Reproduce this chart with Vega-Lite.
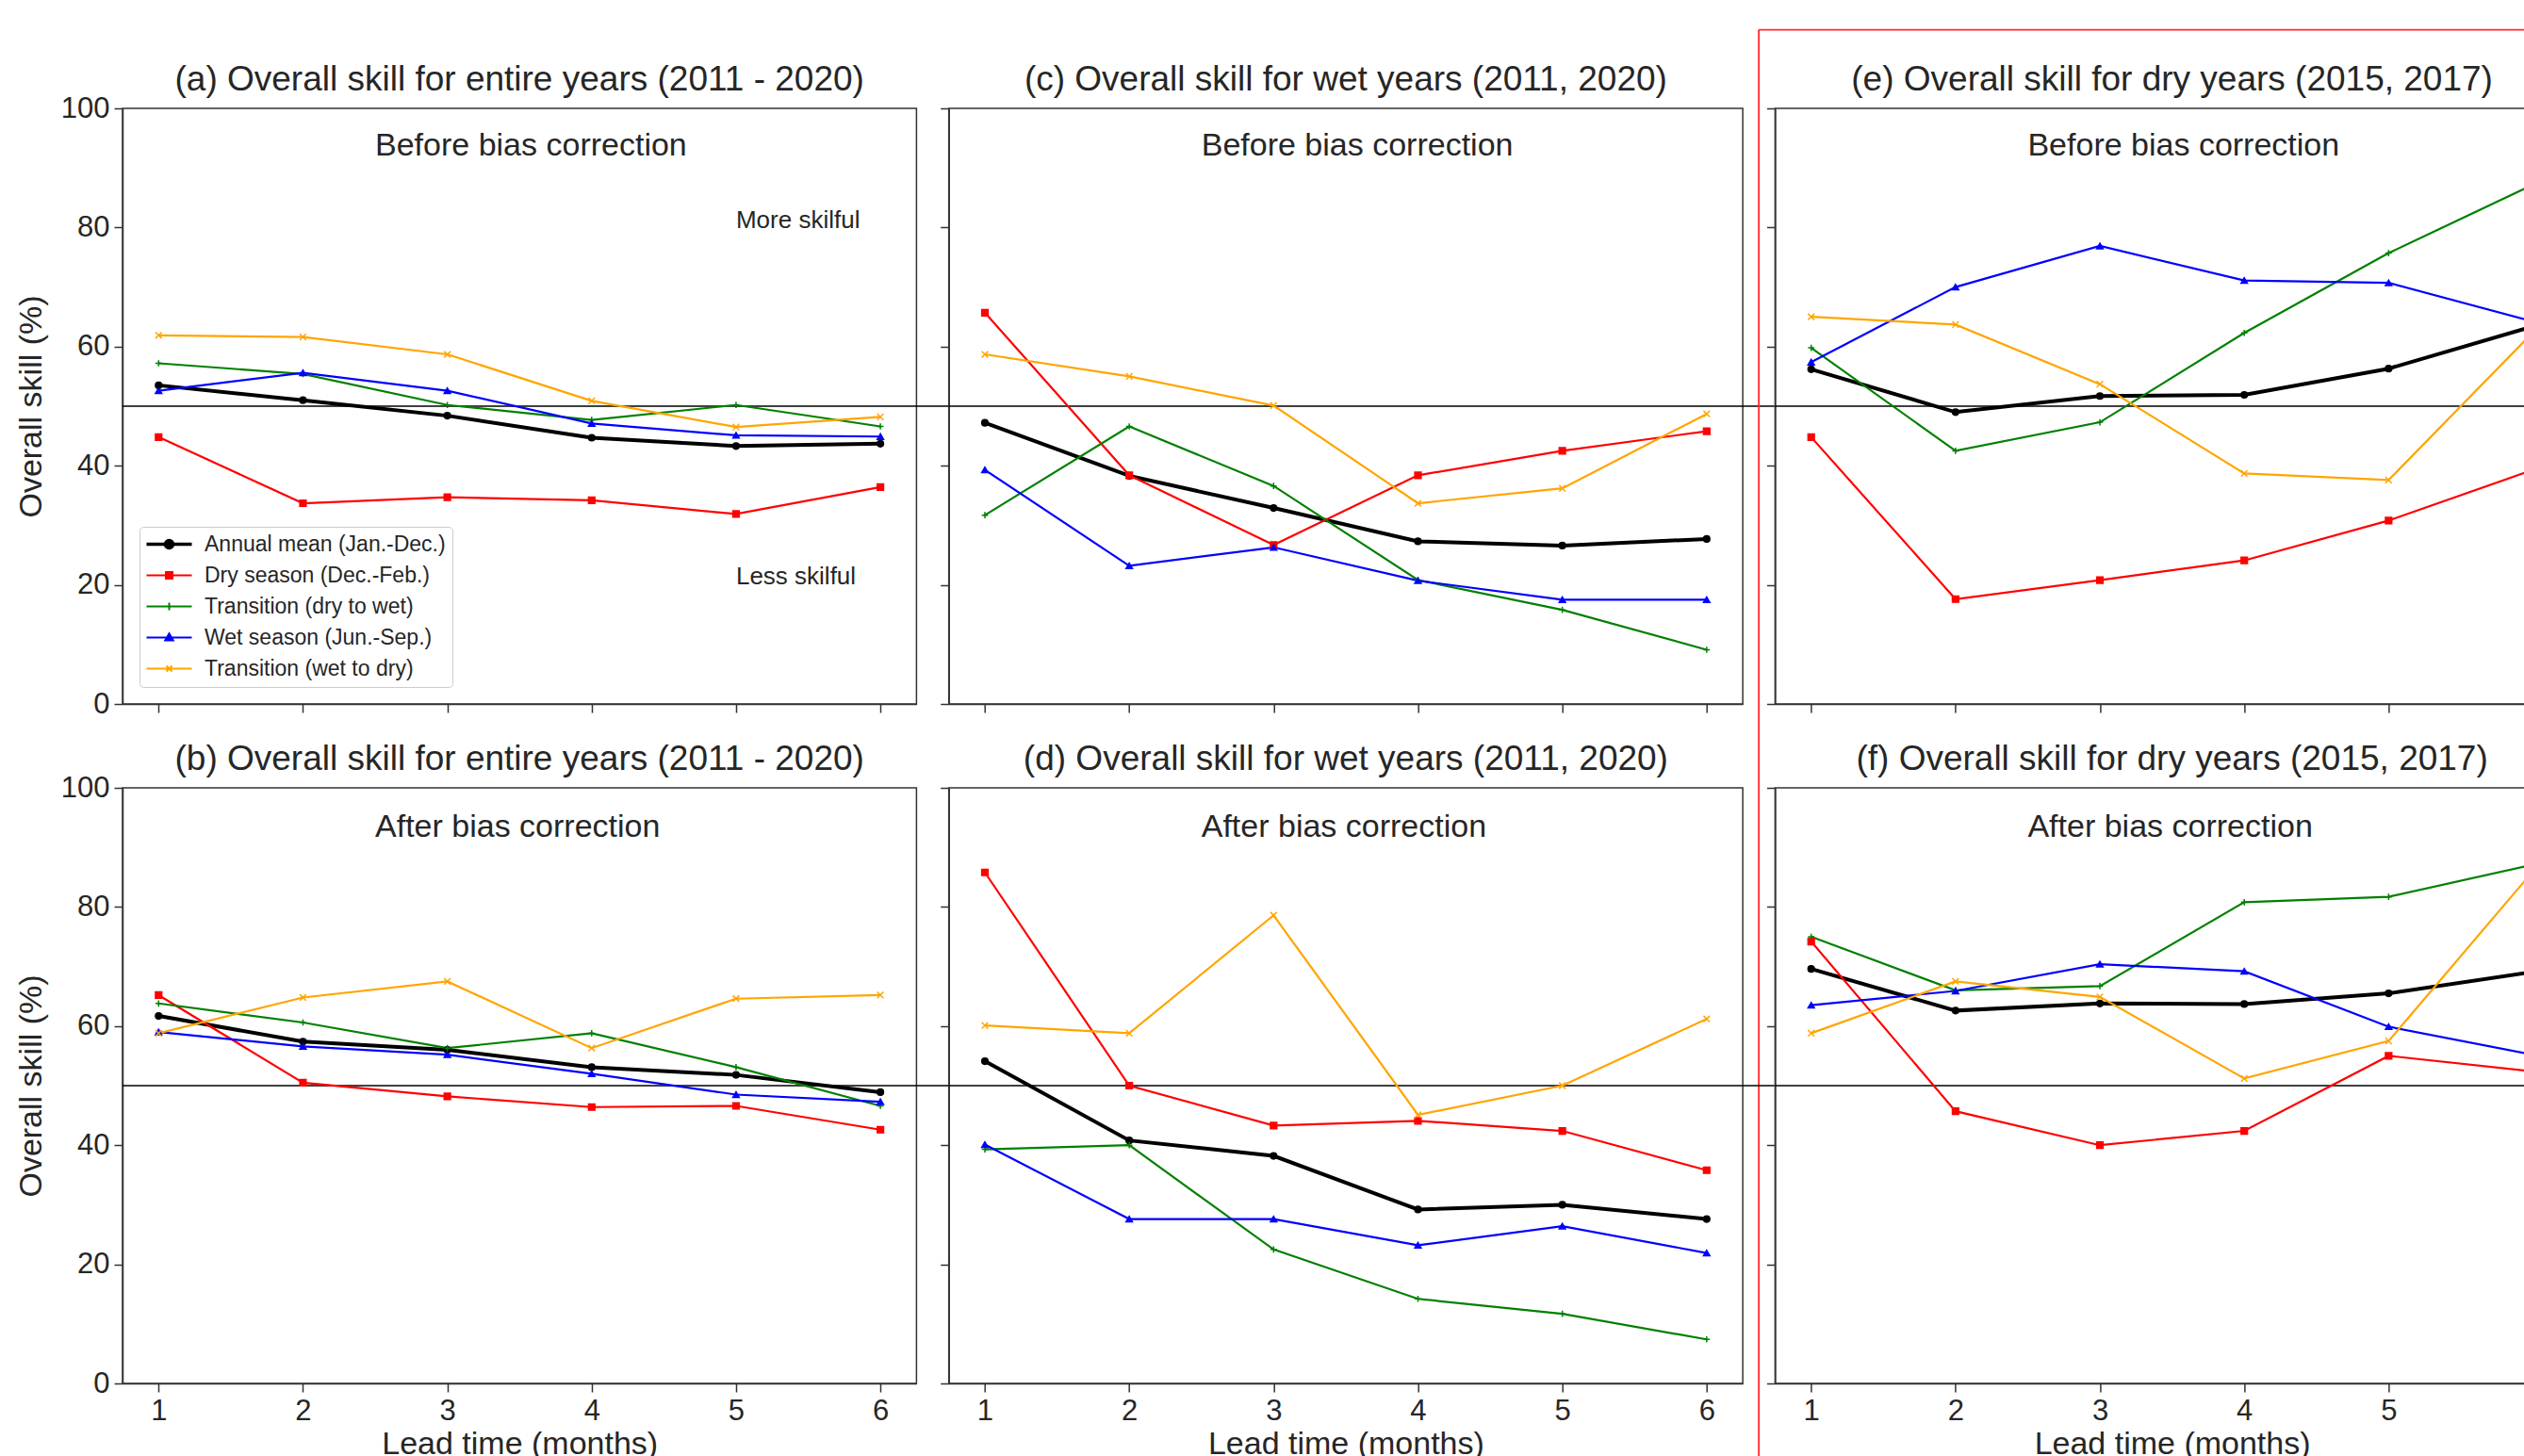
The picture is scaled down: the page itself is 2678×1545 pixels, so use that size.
{
  "$schema": "https://vega.github.io/schema/vega-lite/v6.json",
  "padding": {"left": 15, "top": 29, "right": 0, "bottom": 0},
  "background": "white",
  "bounds": "flush",
  "columns": 3,
  "spacing": {"row": 89, "column": 33.7},
  "resolve": {"scale": {"shape": "independent"}},
  "datasets": {
    "skill": [
      {"panel":"a","lead":1,"series":"Annual mean (Jan.-Dec.)","skill":53.5},{"panel":"a","lead":2,"series":"Annual mean (Jan.-Dec.)","skill":51.0},{"panel":"a","lead":3,"series":"Annual mean (Jan.-Dec.)","skill":48.4},{"panel":"a","lead":4,"series":"Annual mean (Jan.-Dec.)","skill":44.7},{"panel":"a","lead":5,"series":"Annual mean (Jan.-Dec.)","skill":43.3},{"panel":"a","lead":6,"series":"Annual mean (Jan.-Dec.)","skill":43.7},
      {"panel":"a","lead":1,"series":"Dry season (Dec.-Feb.)","skill":44.8},{"panel":"a","lead":2,"series":"Dry season (Dec.-Feb.)","skill":33.7},{"panel":"a","lead":3,"series":"Dry season (Dec.-Feb.)","skill":34.7},{"panel":"a","lead":4,"series":"Dry season (Dec.-Feb.)","skill":34.2},{"panel":"a","lead":5,"series":"Dry season (Dec.-Feb.)","skill":31.9},{"panel":"a","lead":6,"series":"Dry season (Dec.-Feb.)","skill":36.4},
      {"panel":"a","lead":1,"series":"Transition (dry to wet)","skill":57.2},{"panel":"a","lead":2,"series":"Transition (dry to wet)","skill":55.4},{"panel":"a","lead":3,"series":"Transition (dry to wet)","skill":50.2},{"panel":"a","lead":4,"series":"Transition (dry to wet)","skill":47.7},{"panel":"a","lead":5,"series":"Transition (dry to wet)","skill":50.2},{"panel":"a","lead":6,"series":"Transition (dry to wet)","skill":46.6},
      {"panel":"a","lead":1,"series":"Wet season (Jun.-Sep.)","skill":52.6},{"panel":"a","lead":2,"series":"Wet season (Jun.-Sep.)","skill":55.6},{"panel":"a","lead":3,"series":"Wet season (Jun.-Sep.)","skill":52.6},{"panel":"a","lead":4,"series":"Wet season (Jun.-Sep.)","skill":47.1},{"panel":"a","lead":5,"series":"Wet season (Jun.-Sep.)","skill":45.1},{"panel":"a","lead":6,"series":"Wet season (Jun.-Sep.)","skill":44.9},
      {"panel":"a","lead":1,"series":"Transition (wet to dry)","skill":61.9},{"panel":"a","lead":2,"series":"Transition (wet to dry)","skill":61.6},{"panel":"a","lead":3,"series":"Transition (wet to dry)","skill":58.7},{"panel":"a","lead":4,"series":"Transition (wet to dry)","skill":50.9},{"panel":"a","lead":5,"series":"Transition (wet to dry)","skill":46.5},{"panel":"a","lead":6,"series":"Transition (wet to dry)","skill":48.2},

      {"panel":"c","lead":1,"series":"Annual mean (Jan.-Dec.)","skill":47.2},{"panel":"c","lead":2,"series":"Annual mean (Jan.-Dec.)","skill":38.3},{"panel":"c","lead":3,"series":"Annual mean (Jan.-Dec.)","skill":32.9},{"panel":"c","lead":4,"series":"Annual mean (Jan.-Dec.)","skill":27.3},{"panel":"c","lead":5,"series":"Annual mean (Jan.-Dec.)","skill":26.6},{"panel":"c","lead":6,"series":"Annual mean (Jan.-Dec.)","skill":27.7},
      {"panel":"c","lead":1,"series":"Dry season (Dec.-Feb.)","skill":65.7},{"panel":"c","lead":2,"series":"Dry season (Dec.-Feb.)","skill":38.4},{"panel":"c","lead":3,"series":"Dry season (Dec.-Feb.)","skill":26.7},{"panel":"c","lead":4,"series":"Dry season (Dec.-Feb.)","skill":38.4},{"panel":"c","lead":5,"series":"Dry season (Dec.-Feb.)","skill":42.5},{"panel":"c","lead":6,"series":"Dry season (Dec.-Feb.)","skill":45.8},
      {"panel":"c","lead":1,"series":"Transition (dry to wet)","skill":31.7},{"panel":"c","lead":2,"series":"Transition (dry to wet)","skill":46.6},{"panel":"c","lead":3,"series":"Transition (dry to wet)","skill":36.6},{"panel":"c","lead":4,"series":"Transition (dry to wet)","skill":20.8},{"panel":"c","lead":5,"series":"Transition (dry to wet)","skill":15.8},{"panel":"c","lead":6,"series":"Transition (dry to wet)","skill":9.1},
      {"panel":"c","lead":1,"series":"Wet season (Jun.-Sep.)","skill":39.3},{"panel":"c","lead":2,"series":"Wet season (Jun.-Sep.)","skill":23.2},{"panel":"c","lead":3,"series":"Wet season (Jun.-Sep.)","skill":26.3},{"panel":"c","lead":4,"series":"Wet season (Jun.-Sep.)","skill":20.7},{"panel":"c","lead":5,"series":"Wet season (Jun.-Sep.)","skill":17.5},{"panel":"c","lead":6,"series":"Wet season (Jun.-Sep.)","skill":17.5},
      {"panel":"c","lead":1,"series":"Transition (wet to dry)","skill":58.7},{"panel":"c","lead":2,"series":"Transition (wet to dry)","skill":55.0},{"panel":"c","lead":3,"series":"Transition (wet to dry)","skill":50.1},{"panel":"c","lead":4,"series":"Transition (wet to dry)","skill":33.7},{"panel":"c","lead":5,"series":"Transition (wet to dry)","skill":36.2},{"panel":"c","lead":6,"series":"Transition (wet to dry)","skill":48.7},

      {"panel":"e","lead":1,"series":"Annual mean (Jan.-Dec.)","skill":56.2},{"panel":"e","lead":2,"series":"Annual mean (Jan.-Dec.)","skill":49.0},{"panel":"e","lead":3,"series":"Annual mean (Jan.-Dec.)","skill":51.7},{"panel":"e","lead":4,"series":"Annual mean (Jan.-Dec.)","skill":51.9},{"panel":"e","lead":5,"series":"Annual mean (Jan.-Dec.)","skill":56.3},{"panel":"e","lead":6,"series":"Annual mean (Jan.-Dec.)","skill":63.4},
      {"panel":"e","lead":1,"series":"Dry season (Dec.-Feb.)","skill":44.8},{"panel":"e","lead":2,"series":"Dry season (Dec.-Feb.)","skill":17.6},{"panel":"e","lead":3,"series":"Dry season (Dec.-Feb.)","skill":20.8},{"panel":"e","lead":4,"series":"Dry season (Dec.-Feb.)","skill":24.1},{"panel":"e","lead":5,"series":"Dry season (Dec.-Feb.)","skill":30.8},{"panel":"e","lead":6,"series":"Dry season (Dec.-Feb.)","skill":39.3},
      {"panel":"e","lead":1,"series":"Transition (dry to wet)","skill":59.8},{"panel":"e","lead":2,"series":"Transition (dry to wet)","skill":42.5},{"panel":"e","lead":3,"series":"Transition (dry to wet)","skill":47.3},{"panel":"e","lead":4,"series":"Transition (dry to wet)","skill":62.3},{"panel":"e","lead":5,"series":"Transition (dry to wet)","skill":75.7},{"panel":"e","lead":6,"series":"Transition (dry to wet)","skill":87.2},
      {"panel":"e","lead":1,"series":"Wet season (Jun.-Sep.)","skill":57.4},{"panel":"e","lead":2,"series":"Wet season (Jun.-Sep.)","skill":70.0},{"panel":"e","lead":3,"series":"Wet season (Jun.-Sep.)","skill":76.9},{"panel":"e","lead":4,"series":"Wet season (Jun.-Sep.)","skill":71.1},{"panel":"e","lead":5,"series":"Wet season (Jun.-Sep.)","skill":70.7},{"panel":"e","lead":6,"series":"Wet season (Jun.-Sep.)","skill":64.2},
      {"panel":"e","lead":1,"series":"Transition (wet to dry)","skill":65.0},{"panel":"e","lead":2,"series":"Transition (wet to dry)","skill":63.7},{"panel":"e","lead":3,"series":"Transition (wet to dry)","skill":53.7},{"panel":"e","lead":4,"series":"Transition (wet to dry)","skill":38.7},{"panel":"e","lead":5,"series":"Transition (wet to dry)","skill":37.6},{"panel":"e","lead":6,"series":"Transition (wet to dry)","skill":62.4},

      {"panel":"b","lead":1,"series":"Annual mean (Jan.-Dec.)","skill":61.7},{"panel":"b","lead":2,"series":"Annual mean (Jan.-Dec.)","skill":57.4},{"panel":"b","lead":3,"series":"Annual mean (Jan.-Dec.)","skill":56.0},{"panel":"b","lead":4,"series":"Annual mean (Jan.-Dec.)","skill":53.1},{"panel":"b","lead":5,"series":"Annual mean (Jan.-Dec.)","skill":51.8},{"panel":"b","lead":6,"series":"Annual mean (Jan.-Dec.)","skill":48.9},
      {"panel":"b","lead":1,"series":"Dry season (Dec.-Feb.)","skill":65.2},{"panel":"b","lead":2,"series":"Dry season (Dec.-Feb.)","skill":50.5},{"panel":"b","lead":3,"series":"Dry season (Dec.-Feb.)","skill":48.2},{"panel":"b","lead":4,"series":"Dry season (Dec.-Feb.)","skill":46.4},{"panel":"b","lead":5,"series":"Dry season (Dec.-Feb.)","skill":46.6},{"panel":"b","lead":6,"series":"Dry season (Dec.-Feb.)","skill":42.6},
      {"panel":"b","lead":1,"series":"Transition (dry to wet)","skill":63.8},{"panel":"b","lead":2,"series":"Transition (dry to wet)","skill":60.6},{"panel":"b","lead":3,"series":"Transition (dry to wet)","skill":56.3},{"panel":"b","lead":4,"series":"Transition (dry to wet)","skill":58.8},{"panel":"b","lead":5,"series":"Transition (dry to wet)","skill":53.1},{"panel":"b","lead":6,"series":"Transition (dry to wet)","skill":46.6},
      {"panel":"b","lead":1,"series":"Wet season (Jun.-Sep.)","skill":59.0},{"panel":"b","lead":2,"series":"Wet season (Jun.-Sep.)","skill":56.6},{"panel":"b","lead":3,"series":"Wet season (Jun.-Sep.)","skill":55.2},{"panel":"b","lead":4,"series":"Wet season (Jun.-Sep.)","skill":52.0},{"panel":"b","lead":5,"series":"Wet season (Jun.-Sep.)","skill":48.5},{"panel":"b","lead":6,"series":"Wet season (Jun.-Sep.)","skill":47.3},
      {"panel":"b","lead":1,"series":"Transition (wet to dry)","skill":58.8},{"panel":"b","lead":2,"series":"Transition (wet to dry)","skill":64.8},{"panel":"b","lead":3,"series":"Transition (wet to dry)","skill":67.5},{"panel":"b","lead":4,"series":"Transition (wet to dry)","skill":56.3},{"panel":"b","lead":5,"series":"Transition (wet to dry)","skill":64.6},{"panel":"b","lead":6,"series":"Transition (wet to dry)","skill":65.2},

      {"panel":"d","lead":1,"series":"Annual mean (Jan.-Dec.)","skill":54.1},{"panel":"d","lead":2,"series":"Annual mean (Jan.-Dec.)","skill":40.8},{"panel":"d","lead":3,"series":"Annual mean (Jan.-Dec.)","skill":38.2},{"panel":"d","lead":4,"series":"Annual mean (Jan.-Dec.)","skill":29.2},{"panel":"d","lead":5,"series":"Annual mean (Jan.-Dec.)","skill":30.0},{"panel":"d","lead":6,"series":"Annual mean (Jan.-Dec.)","skill":27.6},
      {"panel":"d","lead":1,"series":"Dry season (Dec.-Feb.)","skill":85.8},{"panel":"d","lead":2,"series":"Dry season (Dec.-Feb.)","skill":50.0},{"panel":"d","lead":3,"series":"Dry season (Dec.-Feb.)","skill":43.3},{"panel":"d","lead":4,"series":"Dry season (Dec.-Feb.)","skill":44.1},{"panel":"d","lead":5,"series":"Dry season (Dec.-Feb.)","skill":42.4},{"panel":"d","lead":6,"series":"Dry season (Dec.-Feb.)","skill":35.8},
      {"panel":"d","lead":1,"series":"Transition (dry to wet)","skill":39.3},{"panel":"d","lead":2,"series":"Transition (dry to wet)","skill":40.0},{"panel":"d","lead":3,"series":"Transition (dry to wet)","skill":22.5},{"panel":"d","lead":4,"series":"Transition (dry to wet)","skill":14.2},{"panel":"d","lead":5,"series":"Transition (dry to wet)","skill":11.7},{"panel":"d","lead":6,"series":"Transition (dry to wet)","skill":7.4},
      {"panel":"d","lead":1,"series":"Wet season (Jun.-Sep.)","skill":40.1},{"panel":"d","lead":2,"series":"Wet season (Jun.-Sep.)","skill":27.6},{"panel":"d","lead":3,"series":"Wet season (Jun.-Sep.)","skill":27.6},{"panel":"d","lead":4,"series":"Wet season (Jun.-Sep.)","skill":23.2},{"panel":"d","lead":5,"series":"Wet season (Jun.-Sep.)","skill":26.4},{"panel":"d","lead":6,"series":"Wet season (Jun.-Sep.)","skill":21.9},
      {"panel":"d","lead":1,"series":"Transition (wet to dry)","skill":60.1},{"panel":"d","lead":2,"series":"Transition (wet to dry)","skill":58.8},{"panel":"d","lead":3,"series":"Transition (wet to dry)","skill":78.6},{"panel":"d","lead":4,"series":"Transition (wet to dry)","skill":45.1},{"panel":"d","lead":5,"series":"Transition (wet to dry)","skill":50.0},{"panel":"d","lead":6,"series":"Transition (wet to dry)","skill":61.2},

      {"panel":"f","lead":1,"series":"Annual mean (Jan.-Dec.)","skill":69.6},{"panel":"f","lead":2,"series":"Annual mean (Jan.-Dec.)","skill":62.6},{"panel":"f","lead":3,"series":"Annual mean (Jan.-Dec.)","skill":63.8},{"panel":"f","lead":4,"series":"Annual mean (Jan.-Dec.)","skill":63.7},{"panel":"f","lead":5,"series":"Annual mean (Jan.-Dec.)","skill":65.5},{"panel":"f","lead":6,"series":"Annual mean (Jan.-Dec.)","skill":69.1},
      {"panel":"f","lead":1,"series":"Dry season (Dec.-Feb.)","skill":74.2},{"panel":"f","lead":2,"series":"Dry season (Dec.-Feb.)","skill":45.7},{"panel":"f","lead":3,"series":"Dry season (Dec.-Feb.)","skill":40.0},{"panel":"f","lead":4,"series":"Dry season (Dec.-Feb.)","skill":42.4},{"panel":"f","lead":5,"series":"Dry season (Dec.-Feb.)","skill":55.0},{"panel":"f","lead":6,"series":"Dry season (Dec.-Feb.)","skill":52.4},
      {"panel":"f","lead":1,"series":"Transition (dry to wet)","skill":75.0},{"panel":"f","lead":2,"series":"Transition (dry to wet)","skill":66.0},{"panel":"f","lead":3,"series":"Transition (dry to wet)","skill":66.7},{"panel":"f","lead":4,"series":"Transition (dry to wet)","skill":80.8},{"panel":"f","lead":5,"series":"Transition (dry to wet)","skill":81.7},{"panel":"f","lead":6,"series":"Transition (dry to wet)","skill":87.1},
      {"panel":"f","lead":1,"series":"Wet season (Jun.-Sep.)","skill":63.5},{"panel":"f","lead":2,"series":"Wet season (Jun.-Sep.)","skill":65.9},{"panel":"f","lead":3,"series":"Wet season (Jun.-Sep.)","skill":70.4},{"panel":"f","lead":4,"series":"Wet season (Jun.-Sep.)","skill":69.2},{"panel":"f","lead":5,"series":"Wet season (Jun.-Sep.)","skill":59.9},{"panel":"f","lead":6,"series":"Wet season (Jun.-Sep.)","skill":55.2},
      {"panel":"f","lead":1,"series":"Transition (wet to dry)","skill":58.8},{"panel":"f","lead":2,"series":"Transition (wet to dry)","skill":67.5},{"panel":"f","lead":3,"series":"Transition (wet to dry)","skill":64.9},{"panel":"f","lead":4,"series":"Transition (wet to dry)","skill":51.2},{"panel":"f","lead":5,"series":"Transition (wet to dry)","skill":57.5},{"panel":"f","lead":6,"series":"Transition (wet to dry)","skill":86.0}
    ]
  },
  "concat": [
    {
      "width": 842.4, "height": 632,
      "title": {"text": "(a) Overall skill for entire years (2011 - 2020)", "offset": -5},
      "layer": [
        {"data": {"values": [{}]}, "mark": {"type": "rule", "color": "black", "strokeWidth": 1.6, "clip": false},
         "encoding": {"x": {"datum": 0.75, "type": "quantitative", "scale": {"domain": [0.75, 6.25], "nice": false, "zero": false}}, "x2": {"datum": 6.47}, "y": {"datum": 50, "type": "quantitative", "scale": {"domain": [0, 100], "nice": false, "zero": false}}}},
        {"data": {"name": "skill"}, "transform": [{"filter": "datum.panel === 'a'"}],
         "mark": {"type": "line"},
         "encoding": {
           "x": {"field": "lead", "type": "quantitative", "scale": {"domain": [0.75, 6.25], "nice": false, "zero": false}, "axis": {"title": null, "labels": false, "values": [1, 2, 3, 4, 5, 6]}},
           "y": {"field": "skill", "type": "quantitative", "scale": {"domain": [0, 100], "nice": false, "zero": false}, "axis": {"title": "Overall skill (%)", "values": [0, 20, 40, 60, 80, 100]}},
           "stroke": {"field": "series", "type": "nominal", "scale": {"domain": ["Annual mean (Jan.-Dec.)", "Dry season (Dec.-Feb.)", "Transition (dry to wet)", "Wet season (Jun.-Sep.)", "Transition (wet to dry)"], "range": ["#000000", "#ff0000", "#008000", "#0000ff", "#ffa500"]}, "legend": null},
           "strokeWidth": {"condition": {"test": "datum.series === 'Annual mean (Jan.-Dec.)'", "value": 4}, "value": 2.2}
         }},
        {"data": {"name": "skill"}, "transform": [{"filter": "datum.panel === 'a'"}],
         "mark": {"type": "point", "filled": true, "size": 45, "strokeWidth": 1.5, "opacity": 1},
         "encoding": {
           "x": {"field": "lead", "type": "quantitative", "scale": {"domain": [0.75, 6.25], "nice": false, "zero": false}},
           "y": {"field": "skill", "type": "quantitative", "scale": {"domain": [0, 100], "nice": false, "zero": false}},
           "fill": {"field": "series", "type": "nominal", "scale": {"domain": ["Annual mean (Jan.-Dec.)", "Dry season (Dec.-Feb.)", "Transition (dry to wet)", "Wet season (Jun.-Sep.)", "Transition (wet to dry)"], "range": ["#000000", "#ff0000", "#008000", "#0000ff", "#ffa500"]}, "legend": null},
           "stroke": {"field": "series", "type": "nominal", "scale": {"domain": ["Annual mean (Jan.-Dec.)", "Dry season (Dec.-Feb.)", "Transition (dry to wet)", "Wet season (Jun.-Sep.)", "Transition (wet to dry)"], "range": ["#000000", "#ff0000", "#008000", "#0000ff", "#ffa500"]}, "legend": null},
           "shape": {"condition": [{"test": "datum.series === 'Dry season (Dec.-Feb.)'", "value": "square"}, {"test": "datum.series === 'Transition (dry to wet)'", "value": "M-1,0H1M0,-1V1"}, {"test": "datum.series === 'Wet season (Jun.-Sep.)'", "value": "triangle-up"}, {"test": "datum.series === 'Transition (wet to dry)'", "value": "M-1,-1L1,1M-1,1L1,-1"}], "value": "circle"}
         }},
        {"data": {"name": "skill"}, "transform": [{"filter": "false"}],
         "mark": {"type": "point", "filled": true},
         "encoding": {
           "x": {"field": "lead", "type": "quantitative", "scale": {"domain": [0.75, 6.25], "nice": false, "zero": false}},
           "y": {"field": "skill", "type": "quantitative", "scale": {"domain": [0, 100], "nice": false, "zero": false}},
           "shape": {"field": "series", "type": "nominal",
             "scale": {"domain": ["Annual mean (Jan.-Dec.)", "Dry season (Dec.-Feb.)", "Transition (dry to wet)", "Wet season (Jun.-Sep.)", "Transition (wet to dry)"],
                       "range": ["M-2.4,0H2.4M-0.4,0A0.4,0.4,0,1,0,0.4,0A0.4,0.4,0,1,0,-0.4,0Z", "M-2.4,0H2.4M-0.35,-0.35H0.35V0.35H-0.35Z", "M-2.4,0H2.4M0,-0.4V0.4", "M-2.4,0H2.4M0,-0.42L0.42,0.3H-0.42Z", "M-2.4,0H2.4M-0.3,-0.3L0.3,0.3M-0.3,0.3L0.3,-0.3"]},
             "legend": {
               "title": null, "orient": "bottom-left", "offset": 18, "padding": 7,
               "symbolSize": 400, "symbolStrokeWidth": 2, "symbolOffset": 13, "labelOffset": 26,
               "labelFontSize": 23, "labelColor": "#262626", "labelLimit": 0, "rowPadding": 9,
               "strokeColor": "#cccccc", "fillColor": "white", "cornerRadius": 4,
               "encoding": {"symbols": {
                 "fill": {"value": {"expr": "['#000000','#ff0000','#008000','#0000ff','#ffa500'][indexof(['Annual mean (Jan.-Dec.)','Dry season (Dec.-Feb.)','Transition (dry to wet)','Wet season (Jun.-Sep.)','Transition (wet to dry)'], datum.value)]"}},
                 "stroke": {"value": {"expr": "['#000000','#ff0000','#008000','#0000ff','#ffa500'][indexof(['Annual mean (Jan.-Dec.)','Dry season (Dec.-Feb.)','Transition (dry to wet)','Wet season (Jun.-Sep.)','Transition (wet to dry)'], datum.value)]"}},
                 "strokeWidth": {"value": {"expr": "datum.value === 'Annual mean (Jan.-Dec.)' ? 3.5 : 2"}},
                 "size": {"value": 400},
                 "opacity": {"value": 1}
               }}
             }}
         }},
        {"data": {"values": [{}]}, "mark": {"type": "text", "text": "Before bias correction", "align": "left", "baseline": "middle", "fontSize": 34, "color": "#262626"},
         "encoding": {"x": {"datum": 2.5, "type": "quantitative", "scale": {"domain": [0.75, 6.25], "nice": false, "zero": false}}, "y": {"datum": 93.6, "type": "quantitative", "scale": {"domain": [0, 100], "nice": false, "zero": false}}}},
        {"data": {"values": [{}]}, "mark": {"type": "text", "text": "More skilful", "align": "left", "baseline": "middle", "fontSize": 26, "color": "#262626"},
         "encoding": {"x": {"datum": 5.0, "type": "quantitative", "scale": {"domain": [0.75, 6.25], "nice": false, "zero": false}}, "y": {"datum": 81.2, "type": "quantitative", "scale": {"domain": [0, 100], "nice": false, "zero": false}}}},
        {"data": {"values": [{}]}, "mark": {"type": "text", "text": "Less skilful", "align": "left", "baseline": "middle", "fontSize": 26, "color": "#262626"},
         "encoding": {"x": {"datum": 5.0, "type": "quantitative", "scale": {"domain": [0.75, 6.25], "nice": false, "zero": false}}, "y": {"datum": 21.4, "type": "quantitative", "scale": {"domain": [0, 100], "nice": false, "zero": false}}}}
      ]
    },
    {
      "width": 842.4, "height": 632,
      "title": {"text": "(c) Overall skill for wet years (2011, 2020)", "offset": 10},
      "layer": [
        {"data": {"values": [{}]}, "mark": {"type": "rule", "color": "black", "strokeWidth": 1.6, "clip": false},
         "encoding": {"x": {"datum": 0.75, "type": "quantitative", "scale": {"domain": [0.75, 6.25], "nice": false, "zero": false}}, "x2": {"datum": 6.47}, "y": {"datum": 50, "type": "quantitative", "scale": {"domain": [0, 100], "nice": false, "zero": false}}}},
        {"data": {"name": "skill"}, "transform": [{"filter": "datum.panel === 'c'"}],
         "mark": {"type": "line"},
         "encoding": {
           "x": {"field": "lead", "type": "quantitative", "scale": {"domain": [0.75, 6.25], "nice": false, "zero": false}, "axis": {"title": null, "labels": false, "values": [1, 2, 3, 4, 5, 6]}},
           "y": {"field": "skill", "type": "quantitative", "scale": {"domain": [0, 100], "nice": false, "zero": false}, "axis": {"title": null, "labels": false, "values": [0, 20, 40, 60, 80, 100]}},
           "stroke": {"field": "series", "type": "nominal", "scale": {"domain": ["Annual mean (Jan.-Dec.)", "Dry season (Dec.-Feb.)", "Transition (dry to wet)", "Wet season (Jun.-Sep.)", "Transition (wet to dry)"], "range": ["#000000", "#ff0000", "#008000", "#0000ff", "#ffa500"]}, "legend": null},
           "strokeWidth": {"condition": {"test": "datum.series === 'Annual mean (Jan.-Dec.)'", "value": 4}, "value": 2.2}
         }},
        {"data": {"name": "skill"}, "transform": [{"filter": "datum.panel === 'c'"}],
         "mark": {"type": "point", "filled": true, "size": 45, "strokeWidth": 1.5, "opacity": 1},
         "encoding": {
           "x": {"field": "lead", "type": "quantitative", "scale": {"domain": [0.75, 6.25], "nice": false, "zero": false}},
           "y": {"field": "skill", "type": "quantitative", "scale": {"domain": [0, 100], "nice": false, "zero": false}},
           "fill": {"field": "series", "type": "nominal", "scale": {"domain": ["Annual mean (Jan.-Dec.)", "Dry season (Dec.-Feb.)", "Transition (dry to wet)", "Wet season (Jun.-Sep.)", "Transition (wet to dry)"], "range": ["#000000", "#ff0000", "#008000", "#0000ff", "#ffa500"]}, "legend": null},
           "stroke": {"field": "series", "type": "nominal", "scale": {"domain": ["Annual mean (Jan.-Dec.)", "Dry season (Dec.-Feb.)", "Transition (dry to wet)", "Wet season (Jun.-Sep.)", "Transition (wet to dry)"], "range": ["#000000", "#ff0000", "#008000", "#0000ff", "#ffa500"]}, "legend": null},
           "shape": {"condition": [{"test": "datum.series === 'Dry season (Dec.-Feb.)'", "value": "square"}, {"test": "datum.series === 'Transition (dry to wet)'", "value": "M-1,0H1M0,-1V1"}, {"test": "datum.series === 'Wet season (Jun.-Sep.)'", "value": "triangle-up"}, {"test": "datum.series === 'Transition (wet to dry)'", "value": "M-1,-1L1,1M-1,1L1,-1"}], "value": "circle"}
         }},
        {"data": {"values": [{}]}, "mark": {"type": "text", "text": "Before bias correction", "align": "left", "baseline": "middle", "fontSize": 34, "color": "#262626"},
         "encoding": {"x": {"datum": 2.5, "type": "quantitative", "scale": {"domain": [0.75, 6.25], "nice": false, "zero": false}}, "y": {"datum": 93.6, "type": "quantitative", "scale": {"domain": [0, 100], "nice": false, "zero": false}}}}
      ]
    },
    {
      "width": 842.4, "height": 632,
      "title": {"text": "(e) Overall skill for dry years (2015, 2017)", "offset": -73.5},
      "layer": [
        {"data": {"values": [{}]}, "mark": {"type": "rule", "color": "black", "strokeWidth": 1.6, "clip": false},
         "encoding": {"x": {"datum": 0.75, "type": "quantitative", "scale": {"domain": [0.75, 6.25], "nice": false, "zero": false}}, "x2": {"datum": 6.47}, "y": {"datum": 50, "type": "quantitative", "scale": {"domain": [0, 100], "nice": false, "zero": false}}}},
        {"data": {"name": "skill"}, "transform": [{"filter": "datum.panel === 'e'"}],
         "mark": {"type": "line"},
         "encoding": {
           "x": {"field": "lead", "type": "quantitative", "scale": {"domain": [0.75, 6.25], "nice": false, "zero": false}, "axis": {"title": null, "labels": false, "values": [1, 2, 3, 4, 5, 6]}},
           "y": {"field": "skill", "type": "quantitative", "scale": {"domain": [0, 100], "nice": false, "zero": false}, "axis": {"title": null, "labels": false, "values": [0, 20, 40, 60, 80, 100]}},
           "stroke": {"field": "series", "type": "nominal", "scale": {"domain": ["Annual mean (Jan.-Dec.)", "Dry season (Dec.-Feb.)", "Transition (dry to wet)", "Wet season (Jun.-Sep.)", "Transition (wet to dry)"], "range": ["#000000", "#ff0000", "#008000", "#0000ff", "#ffa500"]}, "legend": null},
           "strokeWidth": {"condition": {"test": "datum.series === 'Annual mean (Jan.-Dec.)'", "value": 4}, "value": 2.2}
         }},
        {"data": {"name": "skill"}, "transform": [{"filter": "datum.panel === 'e'"}],
         "mark": {"type": "point", "filled": true, "size": 45, "strokeWidth": 1.5, "opacity": 1},
         "encoding": {
           "x": {"field": "lead", "type": "quantitative", "scale": {"domain": [0.75, 6.25], "nice": false, "zero": false}},
           "y": {"field": "skill", "type": "quantitative", "scale": {"domain": [0, 100], "nice": false, "zero": false}},
           "fill": {"field": "series", "type": "nominal", "scale": {"domain": ["Annual mean (Jan.-Dec.)", "Dry season (Dec.-Feb.)", "Transition (dry to wet)", "Wet season (Jun.-Sep.)", "Transition (wet to dry)"], "range": ["#000000", "#ff0000", "#008000", "#0000ff", "#ffa500"]}, "legend": null},
           "stroke": {"field": "series", "type": "nominal", "scale": {"domain": ["Annual mean (Jan.-Dec.)", "Dry season (Dec.-Feb.)", "Transition (dry to wet)", "Wet season (Jun.-Sep.)", "Transition (wet to dry)"], "range": ["#000000", "#ff0000", "#008000", "#0000ff", "#ffa500"]}, "legend": null},
           "shape": {"condition": [{"test": "datum.series === 'Dry season (Dec.-Feb.)'", "value": "square"}, {"test": "datum.series === 'Transition (dry to wet)'", "value": "M-1,0H1M0,-1V1"}, {"test": "datum.series === 'Wet season (Jun.-Sep.)'", "value": "triangle-up"}, {"test": "datum.series === 'Transition (wet to dry)'", "value": "M-1,-1L1,1M-1,1L1,-1"}], "value": "circle"}
         }},
        {"data": {"values": [{}]}, "mark": {"type": "text", "text": "Before bias correction", "align": "left", "baseline": "middle", "fontSize": 34, "color": "#262626"},
         "encoding": {"x": {"datum": 2.5, "type": "quantitative", "scale": {"domain": [0.75, 6.25], "nice": false, "zero": false}}, "y": {"datum": 93.6, "type": "quantitative", "scale": {"domain": [0, 100], "nice": false, "zero": false}}}},
        {"data": {"values": [{}]}, "mark": {"type": "rule", "color": "#ff2b2b", "strokeWidth": 1.8, "clip": false},
         "encoding": {"x": {"datum": 0.637, "type": "quantitative", "scale": {"domain": [0.75, 6.25], "nice": false, "zero": false}}, "y": {"datum": 113.2, "type": "quantitative", "scale": {"domain": [0, 100], "nice": false, "zero": false}}, "y2": {"datum": -135}}},
        {"data": {"values": [{}]}, "mark": {"type": "rule", "color": "#ff2b2b", "strokeWidth": 1.8, "clip": false},
         "encoding": {"x": {"datum": 0.637, "type": "quantitative", "scale": {"domain": [0.75, 6.25], "nice": false, "zero": false}}, "x2": {"datum": 7.2}, "y": {"datum": 113.2, "type": "quantitative", "scale": {"domain": [0, 100], "nice": false, "zero": false}}}}
      ]
    },
    {
      "width": 842.4, "height": 632,
      "title": {"text": "(b) Overall skill for entire years (2011 - 2020)", "offset": -5},
      "layer": [
        {"data": {"values": [{}]}, "mark": {"type": "rule", "color": "black", "strokeWidth": 1.6, "clip": false},
         "encoding": {"x": {"datum": 0.75, "type": "quantitative", "scale": {"domain": [0.75, 6.25], "nice": false, "zero": false}}, "x2": {"datum": 6.47}, "y": {"datum": 50, "type": "quantitative", "scale": {"domain": [0, 100], "nice": false, "zero": false}}}},
        {"data": {"name": "skill"}, "transform": [{"filter": "datum.panel === 'b'"}],
         "mark": {"type": "line"},
         "encoding": {
           "x": {"field": "lead", "type": "quantitative", "scale": {"domain": [0.75, 6.25], "nice": false, "zero": false}, "axis": {"title": "Lead time (months)", "values": [1, 2, 3, 4, 5, 6], "format": "d"}},
           "y": {"field": "skill", "type": "quantitative", "scale": {"domain": [0, 100], "nice": false, "zero": false}, "axis": {"title": "Overall skill (%)", "values": [0, 20, 40, 60, 80, 100]}},
           "stroke": {"field": "series", "type": "nominal", "scale": {"domain": ["Annual mean (Jan.-Dec.)", "Dry season (Dec.-Feb.)", "Transition (dry to wet)", "Wet season (Jun.-Sep.)", "Transition (wet to dry)"], "range": ["#000000", "#ff0000", "#008000", "#0000ff", "#ffa500"]}, "legend": null},
           "strokeWidth": {"condition": {"test": "datum.series === 'Annual mean (Jan.-Dec.)'", "value": 4}, "value": 2.2}
         }},
        {"data": {"name": "skill"}, "transform": [{"filter": "datum.panel === 'b'"}],
         "mark": {"type": "point", "filled": true, "size": 45, "strokeWidth": 1.5, "opacity": 1},
         "encoding": {
           "x": {"field": "lead", "type": "quantitative", "scale": {"domain": [0.75, 6.25], "nice": false, "zero": false}},
           "y": {"field": "skill", "type": "quantitative", "scale": {"domain": [0, 100], "nice": false, "zero": false}},
           "fill": {"field": "series", "type": "nominal", "scale": {"domain": ["Annual mean (Jan.-Dec.)", "Dry season (Dec.-Feb.)", "Transition (dry to wet)", "Wet season (Jun.-Sep.)", "Transition (wet to dry)"], "range": ["#000000", "#ff0000", "#008000", "#0000ff", "#ffa500"]}, "legend": null},
           "stroke": {"field": "series", "type": "nominal", "scale": {"domain": ["Annual mean (Jan.-Dec.)", "Dry season (Dec.-Feb.)", "Transition (dry to wet)", "Wet season (Jun.-Sep.)", "Transition (wet to dry)"], "range": ["#000000", "#ff0000", "#008000", "#0000ff", "#ffa500"]}, "legend": null},
           "shape": {"condition": [{"test": "datum.series === 'Dry season (Dec.-Feb.)'", "value": "square"}, {"test": "datum.series === 'Transition (dry to wet)'", "value": "M-1,0H1M0,-1V1"}, {"test": "datum.series === 'Wet season (Jun.-Sep.)'", "value": "triangle-up"}, {"test": "datum.series === 'Transition (wet to dry)'", "value": "M-1,-1L1,1M-1,1L1,-1"}], "value": "circle"}
         }},
        {"data": {"values": [{}]}, "mark": {"type": "text", "text": "After bias correction", "align": "left", "baseline": "middle", "fontSize": 34, "color": "#262626"},
         "encoding": {"x": {"datum": 2.5, "type": "quantitative", "scale": {"domain": [0.75, 6.25], "nice": false, "zero": false}}, "y": {"datum": 93.3, "type": "quantitative", "scale": {"domain": [0, 100], "nice": false, "zero": false}}}}
      ]
    },
    {
      "width": 842.4, "height": 632,
      "title": {"text": "(d) Overall skill for wet years (2011, 2020)", "offset": 10},
      "layer": [
        {"data": {"values": [{}]}, "mark": {"type": "rule", "color": "black", "strokeWidth": 1.6, "clip": false},
         "encoding": {"x": {"datum": 0.75, "type": "quantitative", "scale": {"domain": [0.75, 6.25], "nice": false, "zero": false}}, "x2": {"datum": 6.47}, "y": {"datum": 50, "type": "quantitative", "scale": {"domain": [0, 100], "nice": false, "zero": false}}}},
        {"data": {"name": "skill"}, "transform": [{"filter": "datum.panel === 'd'"}],
         "mark": {"type": "line"},
         "encoding": {
           "x": {"field": "lead", "type": "quantitative", "scale": {"domain": [0.75, 6.25], "nice": false, "zero": false}, "axis": {"title": "Lead time (months)", "values": [1, 2, 3, 4, 5, 6], "format": "d"}},
           "y": {"field": "skill", "type": "quantitative", "scale": {"domain": [0, 100], "nice": false, "zero": false}, "axis": {"title": null, "labels": false, "values": [0, 20, 40, 60, 80, 100]}},
           "stroke": {"field": "series", "type": "nominal", "scale": {"domain": ["Annual mean (Jan.-Dec.)", "Dry season (Dec.-Feb.)", "Transition (dry to wet)", "Wet season (Jun.-Sep.)", "Transition (wet to dry)"], "range": ["#000000", "#ff0000", "#008000", "#0000ff", "#ffa500"]}, "legend": null},
           "strokeWidth": {"condition": {"test": "datum.series === 'Annual mean (Jan.-Dec.)'", "value": 4}, "value": 2.2}
         }},
        {"data": {"name": "skill"}, "transform": [{"filter": "datum.panel === 'd'"}],
         "mark": {"type": "point", "filled": true, "size": 45, "strokeWidth": 1.5, "opacity": 1},
         "encoding": {
           "x": {"field": "lead", "type": "quantitative", "scale": {"domain": [0.75, 6.25], "nice": false, "zero": false}},
           "y": {"field": "skill", "type": "quantitative", "scale": {"domain": [0, 100], "nice": false, "zero": false}},
           "fill": {"field": "series", "type": "nominal", "scale": {"domain": ["Annual mean (Jan.-Dec.)", "Dry season (Dec.-Feb.)", "Transition (dry to wet)", "Wet season (Jun.-Sep.)", "Transition (wet to dry)"], "range": ["#000000", "#ff0000", "#008000", "#0000ff", "#ffa500"]}, "legend": null},
           "stroke": {"field": "series", "type": "nominal", "scale": {"domain": ["Annual mean (Jan.-Dec.)", "Dry season (Dec.-Feb.)", "Transition (dry to wet)", "Wet season (Jun.-Sep.)", "Transition (wet to dry)"], "range": ["#000000", "#ff0000", "#008000", "#0000ff", "#ffa500"]}, "legend": null},
           "shape": {"condition": [{"test": "datum.series === 'Dry season (Dec.-Feb.)'", "value": "square"}, {"test": "datum.series === 'Transition (dry to wet)'", "value": "M-1,0H1M0,-1V1"}, {"test": "datum.series === 'Wet season (Jun.-Sep.)'", "value": "triangle-up"}, {"test": "datum.series === 'Transition (wet to dry)'", "value": "M-1,-1L1,1M-1,1L1,-1"}], "value": "circle"}
         }},
        {"data": {"values": [{}]}, "mark": {"type": "text", "text": "After bias correction", "align": "left", "baseline": "middle", "fontSize": 34, "color": "#262626"},
         "encoding": {"x": {"datum": 2.5, "type": "quantitative", "scale": {"domain": [0.75, 6.25], "nice": false, "zero": false}}, "y": {"datum": 93.3, "type": "quantitative", "scale": {"domain": [0, 100], "nice": false, "zero": false}}}}
      ]
    },
    {
      "width": 842.4, "height": 632,
      "title": {"text": "(f) Overall skill for dry years (2015, 2017)", "offset": 10},
      "layer": [
        {"data": {"values": [{}]}, "mark": {"type": "rule", "color": "black", "strokeWidth": 1.6, "clip": false},
         "encoding": {"x": {"datum": 0.75, "type": "quantitative", "scale": {"domain": [0.75, 6.25], "nice": false, "zero": false}}, "x2": {"datum": 6.47}, "y": {"datum": 50, "type": "quantitative", "scale": {"domain": [0, 100], "nice": false, "zero": false}}}},
        {"data": {"name": "skill"}, "transform": [{"filter": "datum.panel === 'f'"}],
         "mark": {"type": "line"},
         "encoding": {
           "x": {"field": "lead", "type": "quantitative", "scale": {"domain": [0.75, 6.25], "nice": false, "zero": false}, "axis": {"title": "Lead time (months)", "values": [1, 2, 3, 4, 5, 6], "format": "d"}},
           "y": {"field": "skill", "type": "quantitative", "scale": {"domain": [0, 100], "nice": false, "zero": false}, "axis": {"title": null, "labels": false, "values": [0, 20, 40, 60, 80, 100]}},
           "stroke": {"field": "series", "type": "nominal", "scale": {"domain": ["Annual mean (Jan.-Dec.)", "Dry season (Dec.-Feb.)", "Transition (dry to wet)", "Wet season (Jun.-Sep.)", "Transition (wet to dry)"], "range": ["#000000", "#ff0000", "#008000", "#0000ff", "#ffa500"]}, "legend": null},
           "strokeWidth": {"condition": {"test": "datum.series === 'Annual mean (Jan.-Dec.)'", "value": 4}, "value": 2.2}
         }},
        {"data": {"name": "skill"}, "transform": [{"filter": "datum.panel === 'f'"}],
         "mark": {"type": "point", "filled": true, "size": 45, "strokeWidth": 1.5, "opacity": 1},
         "encoding": {
           "x": {"field": "lead", "type": "quantitative", "scale": {"domain": [0.75, 6.25], "nice": false, "zero": false}},
           "y": {"field": "skill", "type": "quantitative", "scale": {"domain": [0, 100], "nice": false, "zero": false}},
           "fill": {"field": "series", "type": "nominal", "scale": {"domain": ["Annual mean (Jan.-Dec.)", "Dry season (Dec.-Feb.)", "Transition (dry to wet)", "Wet season (Jun.-Sep.)", "Transition (wet to dry)"], "range": ["#000000", "#ff0000", "#008000", "#0000ff", "#ffa500"]}, "legend": null},
           "stroke": {"field": "series", "type": "nominal", "scale": {"domain": ["Annual mean (Jan.-Dec.)", "Dry season (Dec.-Feb.)", "Transition (dry to wet)", "Wet season (Jun.-Sep.)", "Transition (wet to dry)"], "range": ["#000000", "#ff0000", "#008000", "#0000ff", "#ffa500"]}, "legend": null},
           "shape": {"condition": [{"test": "datum.series === 'Dry season (Dec.-Feb.)'", "value": "square"}, {"test": "datum.series === 'Transition (dry to wet)'", "value": "M-1,0H1M0,-1V1"}, {"test": "datum.series === 'Wet season (Jun.-Sep.)'", "value": "triangle-up"}, {"test": "datum.series === 'Transition (wet to dry)'", "value": "M-1,-1L1,1M-1,1L1,-1"}], "value": "circle"}
         }},
        {"data": {"values": [{}]}, "mark": {"type": "text", "text": "After bias correction", "align": "left", "baseline": "middle", "fontSize": 34, "color": "#262626"},
         "encoding": {"x": {"datum": 2.5, "type": "quantitative", "scale": {"domain": [0.75, 6.25], "nice": false, "zero": false}}, "y": {"datum": 93.3, "type": "quantitative", "scale": {"domain": [0, 100], "nice": false, "zero": false}}}}
      ]
    }
  ],
  "config": {
    "font": "Liberation Sans",
    "view": {"stroke": "#333333", "strokeWidth": 1.5},
    "axis": {
      "grid": false, "domainColor": "#333333", "domainWidth": 1.5,
      "tickColor": "#333333", "tickWidth": 1.5, "tickSize": 9,
      "labelFontSize": 31, "labelColor": "#262626", "labelPadding": 5,
      "titleFontSize": 34, "titleFontWeight": "normal", "titleColor": "#262626"
    },
    "axisY": {"titlePadding": 14},
    "axisX": {"titlePadding": 3},
    "title": {"fontSize": 37, "fontWeight": "normal", "color": "#262626", "anchor": "middle"}
  }
}
